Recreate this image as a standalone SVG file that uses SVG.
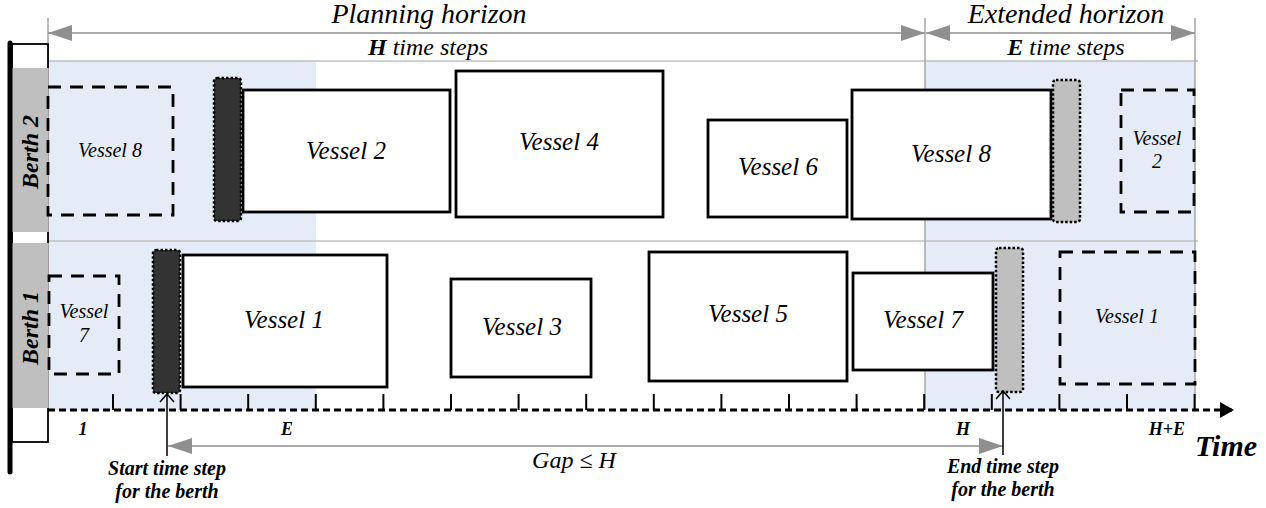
<svg xmlns="http://www.w3.org/2000/svg" width="1266" height="508" viewBox="0 0 1266 508">
<style>
.bg{fill:#e6ecf7}
.hl{stroke:#c0c0c0;stroke-width:1.5;fill:none}
.vl{stroke:#a6a6a6;stroke-width:1.5;fill:none}
.ga{stroke:#8f8f8f;stroke-width:1.5;fill:none}
.v{fill:#fff;stroke:#000;stroke-width:2.8}
.vd{fill:none;stroke:#000;stroke-width:2.8;stroke-dasharray:13 9}
.dk{fill:#333;stroke:#000;stroke-width:2.5;stroke-dasharray:2.5 2}
.lg{fill:#bfbfbf;stroke:#000;stroke-width:2.5;stroke-dasharray:2.5 2}
.tk{stroke:#000;stroke-width:2}
.t{font-family:"Liberation Serif",serif;font-style:italic;fill:#000;text-anchor:middle}
.b{font-weight:bold}
</style>
<defs>
<marker id="ga" viewBox="0 0 24 16" refX="24" refY="8" markerWidth="24" markerHeight="16" markerUnits="userSpaceOnUse" orient="auto-start-reverse">
<path d="M0,0 L24,8 L0,16 Z" fill="#8f8f8f"/>
</marker>
<marker id="ba" viewBox="0 0 14 16" refX="12" refY="8" markerWidth="14" markerHeight="16" markerUnits="userSpaceOnUse" orient="auto">
<path d="M0,0 L14,8 L0,16 Z" fill="#000"/>
</marker>
</defs>

<g id="background">
<rect class="bg" x="48" y="61" width="268" height="349"/>
<rect class="bg" x="925" y="61" width="270" height="349"/>
<line class="hl" x1="48" y1="61" x2="1198" y2="61"/>
<line class="hl" x1="48" y1="241" x2="1198" y2="241"/>
<line class="vl" x1="48" y1="18" x2="48" y2="61"/>
<line class="vl" x1="925" y1="18" x2="925" y2="410"/>
<line class="vl" x1="1195" y1="18" x2="1195" y2="410"/>
</g>

<g id="berth-strip">
<rect x="12" y="44" width="36" height="398" fill="#fff" stroke="#000" stroke-width="1.8"/>
<rect x="12" y="68" width="36.8" height="164" fill="#bfbfbf"/>
<rect x="12" y="243" width="36.8" height="165" fill="#bfbfbf"/>
<line x1="10" y1="43" x2="10" y2="472" stroke="#000" stroke-width="5" stroke-linecap="round"/>
<text class="t b" font-size="24" transform="translate(38,152) rotate(-90)">Berth 2</text>
<text class="t b" font-size="24" transform="translate(38,328) rotate(-90)">Berth 1</text>
</g>

<g id="horizon-labels">
<text class="t" font-size="28" x="429" y="23">Planning horizon</text>
<text class="t" font-size="24" x="428" y="55"><tspan class="b">H</tspan> time steps</text>
<text class="t" font-size="28" x="1066" y="23">Extended horizon</text>
<text class="t" font-size="24" x="1066" y="55"><tspan class="b">E</tspan> time steps</text>
</g>

<g id="b2-vessel8-prev"><rect class="vd" x="48" y="87" width="125" height="128"/><text class="t" font-size="20" x="110" y="157">Vessel 8</text></g>
<g id="b2-start"><rect class="dk" x="214" y="78" width="27" height="143" rx="3"/></g>
<g id="b2-vessel2"><rect class="v" x="243" y="90" width="207" height="122"/><text class="t" font-size="25" x="346" y="159">Vessel 2</text></g>
<g id="b2-vessel4"><rect class="v" x="456" y="71" width="207" height="146"/><text class="t" font-size="25" x="559" y="150">Vessel 4</text></g>
<g id="b2-vessel6"><rect class="v" x="708" y="120" width="139" height="97"/><text class="t" font-size="25" x="778" y="175">Vessel 6</text></g>
<g id="b2-vessel8"><rect class="v" x="852" y="90" width="199" height="129"/><text class="t" font-size="25" x="951" y="162">Vessel 8</text></g>
<g id="b2-end"><rect class="lg" x="1053" y="80" width="27" height="142" rx="3"/></g>
<g id="b2-vessel2-next"><rect class="vd" x="1121" y="90" width="73" height="122"/><text class="t" font-size="20" x="1157" y="145">Vessel</text><text class="t" font-size="20" x="1157" y="168">2</text></g>

<g id="b1-vessel7-prev"><rect class="vd" x="49" y="276" width="70" height="98"/><text class="t" font-size="20" x="84" y="318">Vessel</text><text class="t" font-size="20" x="84" y="342">7</text></g>
<g id="b1-start"><rect class="dk" x="153" y="250" width="27" height="143" rx="3"/></g>
<g id="b1-vessel1"><rect class="v" x="183" y="255" width="204" height="132"/><text class="t" font-size="25" x="284" y="328">Vessel 1</text></g>
<g id="b1-vessel3"><rect class="v" x="451" y="279" width="140" height="98"/><text class="t" font-size="25" x="522" y="335">Vessel 3</text></g>
<g id="b1-vessel5"><rect class="v" x="649" y="252" width="198" height="129"/><text class="t" font-size="25" x="748" y="322">Vessel 5</text></g>
<g id="b1-vessel7"><rect class="v" x="853" y="273" width="140" height="97"/><text class="t" font-size="25" x="923" y="328">Vessel 7</text></g>
<g id="b1-end"><rect class="lg" x="996" y="248" width="27" height="144" rx="3"/></g>
<g id="b1-vessel1-next"><rect class="vd" x="1060" y="252" width="135" height="132"/><text class="t" font-size="20" x="1127" y="323">Vessel 1</text></g>

<g id="axis">
<line x1="48" y1="410" x2="1232" y2="410" stroke="#000" stroke-width="3" stroke-dasharray="7 4" marker-end="url(#ba)"/>
<g class="tk">
<line x1="113" y1="394" x2="113" y2="410"/><line x1="180.6" y1="394" x2="180.6" y2="410"/>
<line x1="248.2" y1="394" x2="248.2" y2="410"/><line x1="315.8" y1="394" x2="315.8" y2="410"/>
<line x1="383.4" y1="394" x2="383.4" y2="410"/><line x1="451" y1="394" x2="451" y2="410"/>
<line x1="518.6" y1="394" x2="518.6" y2="410"/><line x1="586.2" y1="394" x2="586.2" y2="410"/>
<line x1="653.8" y1="394" x2="653.8" y2="410"/><line x1="721.4" y1="394" x2="721.4" y2="410"/>
<line x1="789" y1="394" x2="789" y2="410"/><line x1="856.6" y1="394" x2="856.6" y2="410"/>
<line x1="924.2" y1="394" x2="924.2" y2="410"/><line x1="991.8" y1="394" x2="991.8" y2="410"/>
<line x1="1059.4" y1="394" x2="1059.4" y2="410"/><line x1="1127" y1="394" x2="1127" y2="410"/>
<line x1="1194.6" y1="394" x2="1194.6" y2="410"/>
</g>
<text class="t b" font-size="18" x="83" y="435">1</text>
<text class="t b" font-size="18" x="287" y="435">E</text>
<text class="t b" font-size="18" x="963" y="435">H</text>
<text class="t b" font-size="18" x="1167" y="435">H+E</text>
<text class="t b" font-size="30" x="1226" y="456">Time</text>
</g>

<g id="connectors">
<line class="ga" x1="48" y1="33" x2="925" y2="33" marker-start="url(#ga)" marker-end="url(#ga)"/>
<line class="ga" x1="926" y1="33" x2="1195" y2="33" marker-start="url(#ga)" marker-end="url(#ga)"/>
<line class="ga" x1="168" y1="446" x2="1003" y2="446" marker-start="url(#ga)" marker-end="url(#ga)"/>
<path d="M167,456 V394 M160,402 L167,394 L174,402" fill="none" stroke="#000" stroke-width="1.5"/>
<path d="M1003,455 V391 M996,399 L1003,391 L1010,399" fill="none" stroke="#000" stroke-width="1.5"/>
</g>

<g id="annotations">
<text class="t" font-size="24" x="574" y="468">Gap  ≤  H</text>
<text class="t b" font-size="20" x="167" y="475">Start time step</text>
<text class="t b" font-size="20" x="167" y="498">for the berth</text>
<text class="t b" font-size="20" x="1003" y="473">End time step</text>
<text class="t b" font-size="20" x="1003" y="496">for the berth</text>
</g>
</svg>
